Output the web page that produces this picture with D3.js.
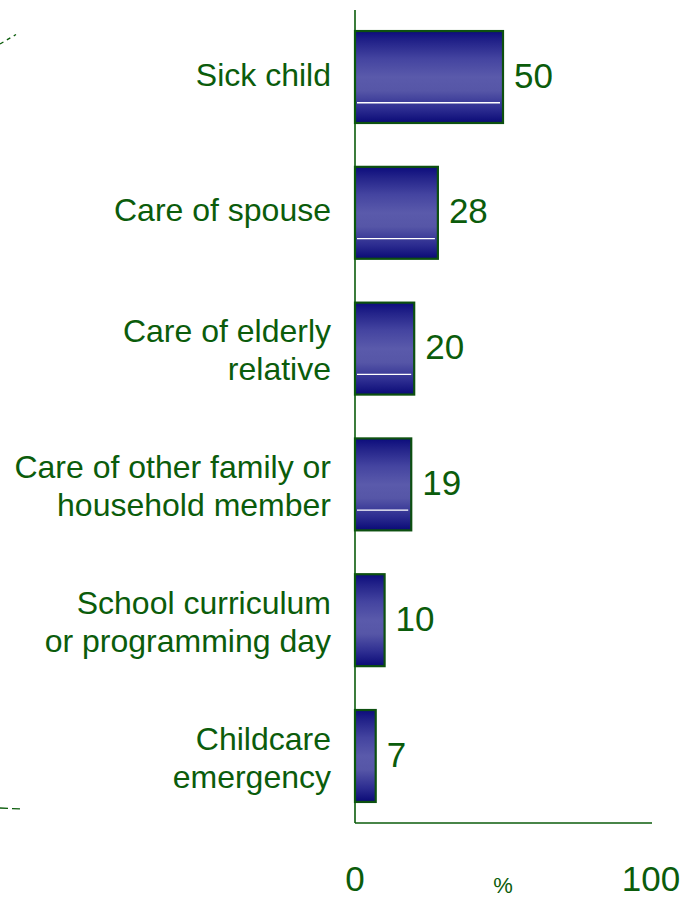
<!DOCTYPE html>
<html>
<head>
<meta charset="utf-8">
<script src="https://cdn.jsdelivr.net/npm/d3@7/dist/d3.min.js"></script>
<style>
  html, body { margin: 0; padding: 0; background: #ffffff; }
  svg { display: block; }
  text { font-family: "Liberation Sans", Arial, sans-serif; }
</style>
</head>
<body>
<svg id="chart" width="680" height="898"></svg>
<script>
// Reasons for absence (%), one entry per bar, top to bottom
const categories = [
  ["Sick child"],
  ["Care of spouse"],
  ["Care of elderly", "relative"],
  ["Care of other family or", "household member"],
  ["School curriculum", "or programming day"],
  ["Childcare", "emergency"]
];
const values = [50, 28, 20, 19, 10, 7];
const tickValues = [0, 100];
const axisUnit = "%";

const green = "#0b5c0b";
const svg = d3.select("#chart");

const x = d3.scaleLinear().domain([0, 100]).range([355, 651]);
const y = d3.scaleBand()
  .domain(d3.range(categories.length))
  .range([10, 823])
  .paddingInner(0.323)
  .paddingOuter(0.155);

// Vertical shading of the bars: dark edges, lighter middle
const defs = svg.append("defs");
const grad = defs.append("linearGradient")
  .attr("id", "barFill")
  .attr("x1", 0).attr("y1", 0).attr("x2", 0).attr("y2", 1);
[
  [0, "#0c0c7c"], [0.12, "#24248a"], [0.3, "#4444a0"],
  [0.5, "#5a5aab"], [0.65, "#5656a7"], [0.85, "#2c2c90"], [1, "#0a0a76"]
].forEach(([o, c]) => grad.append("stop").attr("offset", o).attr("stop-color", c));

// Stray dashed strokes at the left edge of the slide
svg.append("path")
  .attr("d", "M0,44 L16,34.5")
  .attr("stroke", green).attr("stroke-width", 1.3)
  .attr("stroke-dasharray", "4,4").attr("fill", "none");
svg.append("path")
  .attr("d", "M0,808 L21,809")
  .attr("stroke", green).attr("stroke-width", 1.3)
  .attr("stroke-dasharray", "8,4").attr("fill", "none");

// Bars
const bars = svg.append("g").selectAll("g")
  .data(values)
  .join("g");

bars.append("rect")
  .attr("x", x(0))
  .attr("y", (d, i) => y(i))
  .attr("width", d => x(d) - x(0))
  .attr("height", y.bandwidth())
  .attr("fill", "url(#barFill)")
  .attr("stroke", "#0d5010")
  .attr("stroke-width", 2.2);

// Thin white highlight on the wider bars
bars.filter(d => x(d) - x(0) > 40)
  .append("line")
  .attr("x1", x(0) + 2)
  .attr("x2", d => x(d) - 3)
  .attr("y1", (d, i) => y(i) + y.bandwidth() * 0.78)
  .attr("y2", (d, i) => y(i) + y.bandwidth() * 0.78)
  .attr("stroke", "#ffffff")
  .attr("stroke-width", 1.3);

// Value labels
bars.append("text")
  .attr("x", d => x(d) + 11)
  .attr("y", (d, i) => y(i) + y.bandwidth() / 2 - 2)
  .attr("dy", "0.36em")
  .attr("fill", green)
  .attr("font-size", 35)
  .text(d => d);

// Axes
const axisG = svg.append("g");
axisG.append("line")
  .attr("x1", x(0)).attr("x2", x(0))
  .attr("y1", y.range()[0]).attr("y2", y.range()[1])
  .attr("stroke", green).attr("stroke-width", 1.6);
axisG.append("line")
  .attr("x1", x(0)).attr("x2", x(100) + 1)
  .attr("y1", y.range()[1]).attr("y2", y.range()[1])
  .attr("stroke", green).attr("stroke-width", 1.6);

// Category labels, right-aligned against the axis
const lineH = 38;
const labels = svg.append("g").selectAll("text")
  .data(categories)
  .join("text")
  .attr("text-anchor", "end")
  .attr("fill", green)
  .attr("font-size", 32);
labels.each(function(lines, i) {
  const cy = y(i) + y.bandwidth() / 2 + (lines.length > 1 ? 1 : -3);
  const t = d3.select(this);
  lines.forEach((s, k) => {
    t.append("tspan")
      .attr("x", 331)
      .attr("y", cy + (k - (lines.length - 1) / 2) * lineH)
      .attr("dy", "0.36em")
      .text(s);
  });
});

// Tick labels and unit
svg.append("g").selectAll("text")
  .data(tickValues)
  .join("text")
  .attr("x", d => x(d))
  .attr("y", 891)
  .attr("text-anchor", "middle")
  .attr("fill", green)
  .attr("font-size", 35)
  .text(d => d);

svg.append("text")
  .attr("x", x(50))
  .attr("y", 893)
  .attr("text-anchor", "middle")
  .attr("fill", green)
  .attr("font-size", 22)
  .text(axisUnit);
</script>
</body>
</html>
